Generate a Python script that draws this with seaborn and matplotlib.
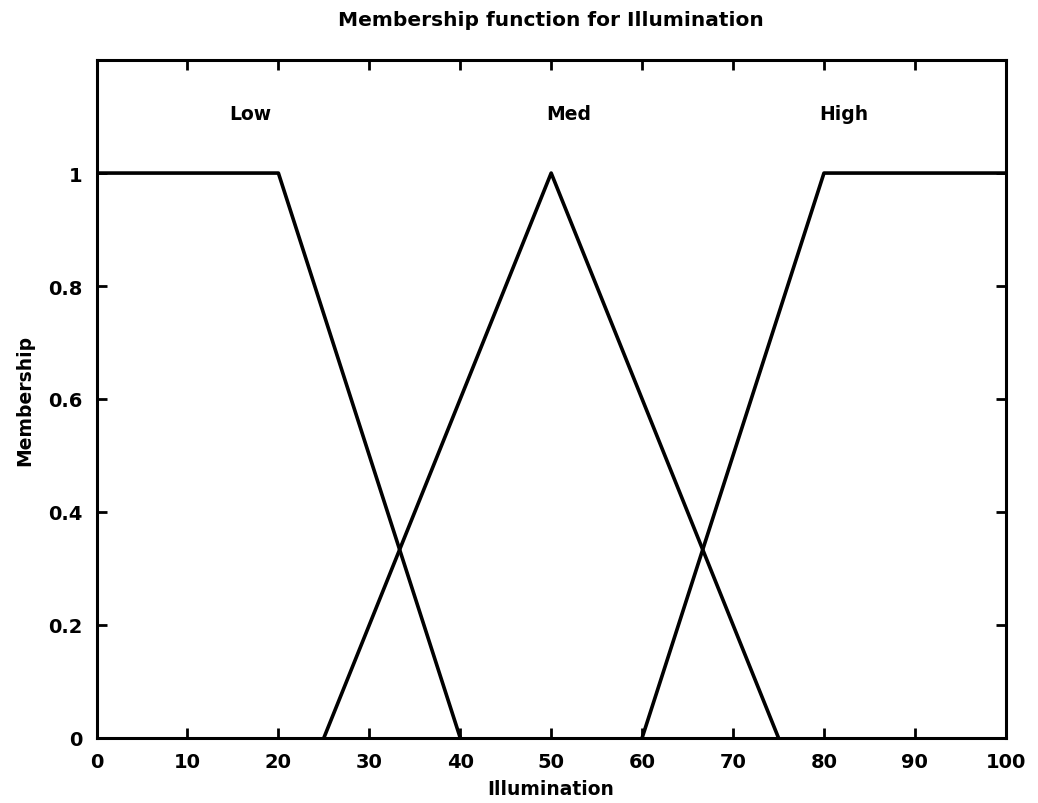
import seaborn as sns
import pandas as pd
import matplotlib.pyplot as plt

# membership function break points
low_x = [0, 20, 40]
low_y = [1, 1, 0]
med_x = [25, 50, 75]
med_y = [0, 1, 0]
high_x = [60, 80, 100]
high_y = [0, 1, 1]

set_names = ["Low", "Med", "High"]
label_x = [14.6, 49.5, 79.5]
label_y = [1.105, 1.105, 1.105]

x_ticks = list(range(0, 101, 10))
y_ticks = [0, 0.2, 0.4, 0.6, 0.8, 1]
y_ticklabels = ["0", "0.2", "0.4", "0.6", "0.8", "1"]

data = pd.concat([
    pd.DataFrame({"Illumination": low_x, "Membership": low_y, "set": "Low"}),
    pd.DataFrame({"Illumination": med_x, "Membership": med_y, "set": "Med"}),
    pd.DataFrame({"Illumination": high_x, "Membership": high_y, "set": "High"}),
])

sns.set_style("ticks")
plt.rcParams["font.family"] = ["DejaVu Sans"]
plt.rcParams["font.weight"] = "bold"
plt.rcParams["text.color"] = "black"
plt.rcParams["axes.labelcolor"] = "black"
plt.rcParams["xtick.color"] = "black"
plt.rcParams["ytick.color"] = "black"

fig = plt.figure(figsize=(10.38, 8.04), dpi=100)
ax = fig.add_axes([0.093, 0.081, 0.876, 0.843])

sns.lineplot(data=data, x="Illumination", y="Membership", hue="set",
             palette=["black", "black", "black"], estimator=None, sort=False,
             linewidth=2.6, legend=False, ax=ax)

for name, lx, ly in zip(set_names, label_x, label_y):
    ax.text(lx, ly, name, fontsize=13.5, fontweight="bold", ha="left",
            va="center", color="black")

ax.set_xlim(0, 100)
ax.set_ylim(0, 1.2)
ax.set_xticks(x_ticks)
ax.set_yticks(y_ticks)
ax.set_yticklabels(y_ticklabels)
ax.tick_params(direction="in", length=7, width=2, labelsize=14,
               top=True, right=True, pad=10)
for spine in ax.spines.values():
    spine.set_linewidth(2.2)
    spine.set_edgecolor("black")
    spine.set_visible(True)

ax.set_xlabel("Illumination", fontsize=13.5, fontweight="bold", labelpad=6)
ax.set_ylabel("Membership", fontsize=13.5, fontweight="bold", labelpad=10)
ax.set_title("Membership function for Illumination", fontsize=14.5,
             fontweight="bold", pad=25)

fig.savefig("out.png", dpi=100, facecolor="white")
